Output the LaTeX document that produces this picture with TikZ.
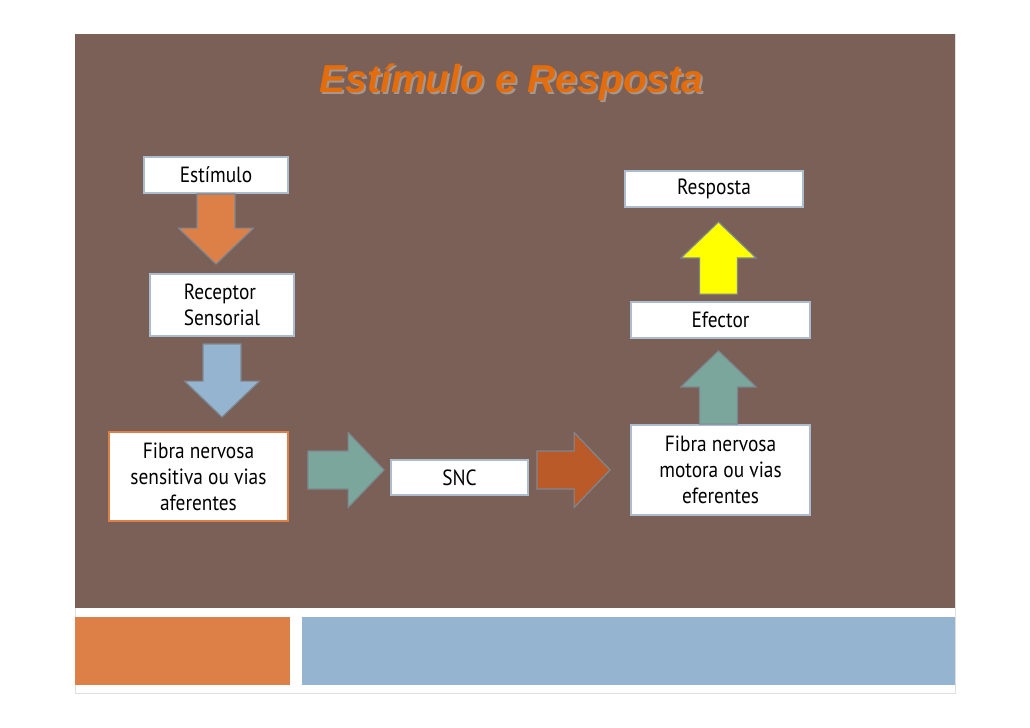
\documentclass[tikz,border=0pt]{standalone}
\usepackage{fontspec}
\setmainfont{PT Sans}
\newfontfamily\titlefont{Liberation Sans}
\newfontfamily\boxfont[FakeStretch=0.88]{PT Sans}
\usetikzlibrary{calc}

\definecolor{slidebrown}{RGB}{122,96,86}
\definecolor{titleorange}{RGB}{228,108,10}
\definecolor{titleshade}{RGB}{165,150,142}
\definecolor{barorange}{RGB}{221,128,72}
\definecolor{barblue}{RGB}{149,180,208}
\definecolor{arrteal}{RGB}{122,166,155}
\definecolor{arrrust}{RGB}{186,90,40}
\definecolor{arryellow}{RGB}{255,255,0}
\definecolor{boxline}{RGB}{170,188,206}
\definecolor{arrline}{RGB}{125,135,145}

\tikzset{
  box/.style={draw=boxline, line width=0.9pt, fill=white, inner sep=0pt,
    align=center, font=\boxfont\fontsize{11}{13}\selectfont},
  blockarrow/.style 2 args={
    draw=arrline, line width=0.6pt, line join=miter,
    to path={
      let \p1=(\tikztostart), \p2=(\tikztotarget),
          \n1={atan2(\y2-\y1,\x2-\x1)},
          \n2={veclen(\x2-\x1,\y2-\y1)} in
      ([shift={(\p1)},rotate=\n1]#1,-9.5pt)
      -- ([shift={(\p1)},rotate=\n1]{\n2*1pt-#2-18pt},-9.5pt)
      -- ([shift={(\p1)},rotate=\n1]{\n2*1pt-#2-18pt},-18.75pt)
      -- ([shift={(\p1)},rotate=\n1]{\n2*1pt-#2},0pt)
      -- ([shift={(\p1)},rotate=\n1]{\n2*1pt-#2-18pt},18.75pt)
      -- ([shift={(\p1)},rotate=\n1]{\n2*1pt-#2-18pt},9.5pt)
      -- ([shift={(\p1)},rotate=\n1]#1,9.5pt) -- cycle
    }},
}

\begin{document}
\begin{tikzpicture}[x=0.5pt, y=-0.5pt]

%% page: 1030 x 728 px, 1 px = 0.5pt
\useasboundingbox (0,0) rectangle (1030,728);
\fill[white] (0,0) rectangle (1030,728);

%% slide frame and background
\draw[gray!25, line width=0.5pt] (75,34) rectangle (955,693);
\fill[slidebrown] (75,34) rectangle (955,608);

%% bottom bars
\fill[barorange] (75,617) rectangle (290,685);
\fill[barblue]   (302,617) rectangle (955,685);

%% title with shadow
\node[titleshade, font=\titlefont\bfseries\itshape\fontsize{19.5}{21}\selectfont]
  (titleshadow) at (513.5,84.5) {Estímulo e Resposta};
\node[titleorange, font=\titlefont\bfseries\itshape\fontsize{19.5}{21}\selectfont]
  (title) at (511.5,82.5) {Estímulo e Resposta};

%% left column
\node[box, minimum width=72pt, minimum height=18pt] (est) at (216,175) {Estímulo};
\node[box, minimum width=72pt, minimum height=31pt, align=left] (rec) at (222,305)
  {Receptor\\Sensorial};
\node[box, draw=barorange, minimum width=89.5pt, minimum height=44.5pt] (fibs)
  at (198.5,476.5) {Fibra nervosa\\sensitiva ou vias\\aferentes};

%% centre
\node[box, minimum width=68.5pt, minimum height=17.5pt] (snc) at (459.5,477.5) {SNC};

%% right column
\node[box, minimum width=89.5pt, minimum height=45pt] (fibm) at (720.5,470)
  {Fibra nervosa\\motora ou vias\\eferentes};
\node[box, minimum width=89.5pt, minimum height=18pt] (efe) at (720.5,320) {Efector};
\node[box, minimum width=89pt, minimum height=18pt] (resp) at (714,189) {Resposta};

%% block arrows
\draw[blockarrow={0pt}{4.5pt}, fill=barorange] (est.south) to (est.south |- rec.north);
\draw[blockarrow={3.5pt}{7pt}, fill=barblue] (rec.south) to (rec.south |- fibs.north);
\draw[blockarrow={9.5pt}{3pt}, fill=arrteal] (fibs.east |- fibm.west) to (snc.west |- fibm.west);
\draw[blockarrow={4pt}{10pt}, fill=arrrust] (snc.east |- fibm.west) to (fibm.west);
\draw[blockarrow={0pt}{6pt}, fill=arrteal] ([xshift=-1pt]fibm.north) to ([xshift=-1pt]efe.south);
\draw[blockarrow={3.5pt}{7pt}, fill=arryellow] ([xshift=-1pt]efe.north) to ([xshift=-1pt]efe.north |- resp.south);

\end{tikzpicture}
\end{document}
